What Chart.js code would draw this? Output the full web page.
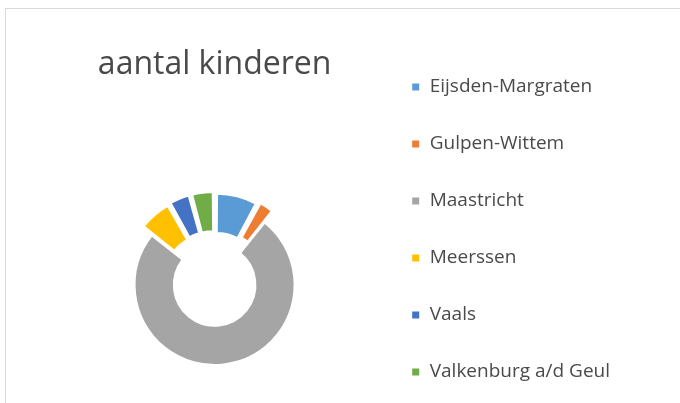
<!DOCTYPE html>
<html>
<head>
<meta charset="utf-8">
<script src="https://cdn.jsdelivr.net/npm/chart.js@4"></script>
<style>
    html, body { margin: 0; padding: 0; background: #fff; overflow: hidden; }
    #frame {
        position: absolute; left: 5px; top: 8px;
        width: 800px; height: 500px;
        border: 1px solid #d9d9d9;
    }
    #wrap { position: absolute; left: 0; top: 0; width: 680px; height: 403px; }
</style>
</head>
<body>
<div id="frame"></div>
<div id="wrap"><canvas id="kinderenChart"></canvas></div>
<script>
// data
const gemeenten = ["Eijsden-Margraten", "Gulpen-Wittem", "Maastricht", "Meerssen", "Vaals", "Valkenburg a/d Geul"];
const aantalKinderen = [470, 170, 4460, 370, 235, 250];
const kleuren = ["#5B9BD5", "#ED7D31", "#A5A5A5", "#FFC000", "#4472C4", "#70AD47"];

const ctx = document.querySelector("#kinderenChart").getContext("2d");

const kinderenChart = new Chart(ctx, {
    type: "doughnut",
    data: {
        labels: gemeenten,
        datasets: [{
            data: aantalKinderen,
            backgroundColor: kleuren,
            borderColor: "#fff",
            borderWidth: 2,
            // kleine gemeenten los van de ring
            offset: [30, 30, 0, 30, 30, 30]
        }]
    },
    options: {
        responsive: true,
        maintainAspectRatio: false,
        animation: false,
        radius: 80,
        cutout: "51%",
        layout: {
            // bottom < 0 zodat de legenda in een kolom blijft
            padding: { left: 56, right: 60, top: 39.5, bottom: -30 }
        },
        plugins: {
            title: {
                display: true,
                text: "aantal kinderen",
                fullSize: false,
                color: "#4a4a4a",
                font: { family: "'Open Sans'", size: 32, weight: "normal" },
                padding: { top: 6, bottom: 83 }
            },
            legend: {
                position: "right",
                align: "start",
                labels: {
                    boxWidth: 9,
                    boxHeight: 9,
                    padding: 38,
                    color: "#4a4a4a",
                    font: { family: "'Open Sans'", size: 19 }
                }
            },
            tooltip: { enabled: false }
        }
    }
});
</script>
</body>
</html>
